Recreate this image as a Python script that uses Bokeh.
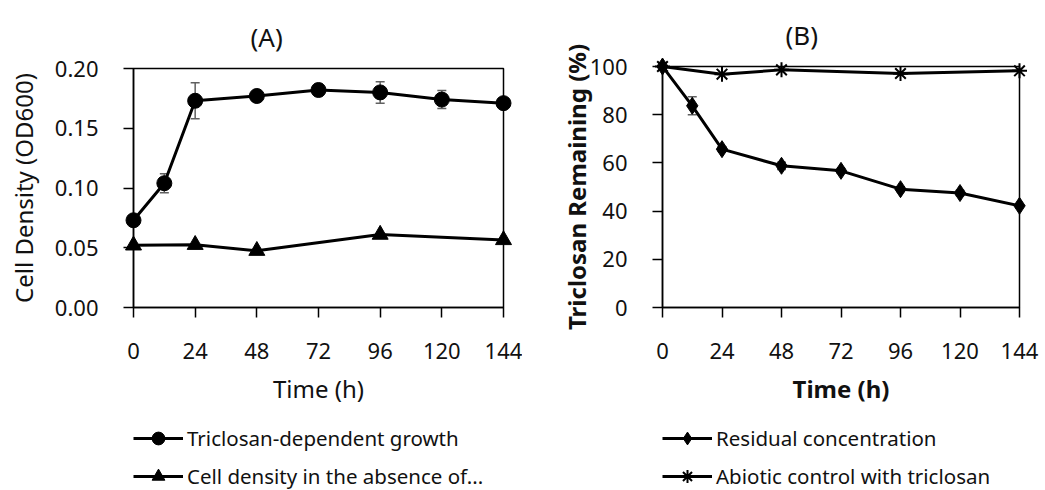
from bokeh.plotting import figure
from bokeh.layouts import row, column
from bokeh.models import (Range1d, FixedTicker, Whisker, ColumnDataSource, Legend,
                          LegendItem, PrintfTickFormatter, Title)
from bokeh.embed import file_html
from bokeh.resources import INLINE

# ---------------- data ----------------
time_a = [0, 12, 24, 48, 72, 96, 120, 144]
growth = [0.073, 0.104, 0.173, 0.177, 0.182, 0.180, 0.174, 0.171]
growth_err = [0.002, 0.008, 0.015, 0.003, 0.005, 0.009, 0.0075, 0.002]
time_ctrl = [0, 24, 48, 96, 144]
ctrl_density = [0.052, 0.0525, 0.0475, 0.061, 0.0565]

time_b = [0, 12, 24, 48, 72, 96, 120, 144]
residual = [100, 83.7, 65.7, 58.8, 56.7, 49.1, 47.5, 42.2]
residual_err = [0.8, 3.7, 1.0, 1.5, 1.0, 1.0, 1.0, 0.8]
time_abiotic = [0, 24, 48, 96, 144]
abiotic = [100, 96.8, 98.6, 97.1, 98.2]

x_ticks = [0, 24, 48, 72, 96, 120, 144]
y_ticks_a = [0, 0.05, 0.10, 0.15, 0.20]
y_ticks_b = [0, 20, 40, 60, 80, 100]

legend_a = ["Triclosan-dependent growth", "Cell density in the absence of..."]
legend_b = ["Residual concentration", "Abiotic control with triclosan"]

FONT = "Noto Sans"
TXT = "#111111"
TICK_FS = "22px"
LABEL_FS = "24px"
MAIN_H = 420


def base_fig(width, left, right, top, frame_h, yr, yticks, title, title_offset):
    p = figure(width=width, height=MAIN_H, output_backend="svg", toolbar_location=None,
               x_range=Range1d(0, 144), y_range=yr,
               min_border_left=left, min_border_right=right, min_border_top=top,
               min_border_bottom=MAIN_H - top - frame_h, title=None)
    p.background_fill_color = None
    p.border_fill_color = None
    p.grid.visible = False
    p.outline_line_color = "black"
    p.outline_line_width = 1.5
    # thin spacer nearest the frame lifts the panel title a little
    p.add_layout(Title(text=" ", text_font_size="2px", standoff=5), "above")
    p.add_layout(Title(text=title, text_font=FONT, text_font_size="26px",
                       text_font_style="normal", text_color=TXT, align="left",
                       offset=title_offset, standoff=10), "above")
    for ax in (p.xaxis[0], p.yaxis[0]):
        ax.axis_line_color = "black"
        ax.axis_line_width = 1.5
        ax.major_tick_line_color = "black"
        ax.major_tick_line_width = 1.5
        ax.major_tick_out = 10
        ax.major_tick_in = 0
        ax.minor_tick_line_color = None
        ax.major_label_text_font = FONT
        ax.major_label_text_font_size = TICK_FS
        ax.major_label_text_color = TXT
        ax.axis_label_text_font = FONT
        ax.axis_label_text_font_size = LABEL_FS
        ax.axis_label_text_color = TXT
        ax.axis_label_text_font_style = "normal"
    p.xaxis.ticker = FixedTicker(ticks=x_ticks)
    p.yaxis.ticker = FixedTicker(ticks=yticks)
    p.xaxis.major_label_standoff = 25
    p.yaxis.major_label_standoff = 25
    p.xaxis.axis_label = "Time (h)"
    p.xaxis.axis_label_standoff = 10
    return p


def whisker(p, src):
    w = Whisker(base="t", lower="lo", upper="hi", source=src, line_color="#606060",
                line_width=1.5)
    for h in (w.upper_head, w.lower_head):
        h.size = 9
        h.line_color = "#606060"
        h.line_width = 1.5
    p.add_layout(w)


def legend_fig(width, labels, series):
    # legend-only strip under a panel; its ranges lie far from the data so
    # the series glyphs themselves stay out of view, only the key is shown
    lf = figure(width=width, height=490 - MAIN_H, output_backend="svg",
                toolbar_location=None, x_range=Range1d(-1000, -999),
                y_range=Range1d(-1000, -999),
                x_axis_type=None, y_axis_type=None,
                min_border_left=125, min_border_top=2, min_border_right=0,
                min_border_bottom=0)
    lf.background_fill_color = None
    lf.border_fill_color = None
    lf.outline_line_color = None
    lf.grid.visible = False
    items = []
    for lab, (src, mk, sz) in zip(labels, series):
        ln = lf.line("t", "v", source=src, line_color="black", line_width=3)
        if mk == "asterisk":
            sc = lf.scatter("t", "v", source=src, marker=mk, size=sz,
                            line_color="black", line_width=2)
        else:
            sc = lf.scatter("t", "v", source=src, marker=mk, size=sz, color="black")
        items.append(LegendItem(label=lab, renderers=[ln, sc]))
    lg = Legend(items=items, location="top_left", orientation="vertical",
                glyph_width=50, glyph_height=32, label_height=32,
                label_text_font=FONT, label_text_font_size="20.5px",
                label_text_color=TXT, label_standoff=4, spacing=6,
                padding=0, margin=0, border_line_color=None,
                background_fill_color=None)
    lf.add_layout(lg, "center")
    return lf


# ---------------- panel A ----------------
pa = base_fig(522, 133, 19, 68, 239, Range1d(0, 0.2), y_ticks_a, "(A)", 117)
pa.yaxis.formatter = PrintfTickFormatter(format="%.2f")
pa.yaxis.axis_label = "Cell Density (OD600)"
pa.yaxis.axis_label_standoff = 12

src_g = ColumnDataSource(dict(t=time_a, v=growth,
                              lo=[v - e for v, e in zip(growth, growth_err)],
                              hi=[v + e for v, e in zip(growth, growth_err)]))
whisker(pa, src_g)
pa.line("t", "v", source=src_g, line_color="black", line_width=3)
pa.scatter("t", "v", source=src_g, marker="circle", size=15, color="black",
           level="annotation")

src_c = ColumnDataSource(dict(t=time_ctrl, v=ctrl_density))
pa.line("t", "v", source=src_c, line_color="black", line_width=3)
pa.scatter("t", "v", source=src_c, marker="triangle", size=16, color="black",
           level="annotation")

la = legend_fig(522, legend_a, [(src_g, "circle", 15), (src_c, "triangle", 16)])

# ---------------- panel B ----------------
pb = base_fig(523, 140, 26, 66, 241, Range1d(0, 100), y_ticks_b, "(B)", 123)
pb.yaxis.axis_label = "Triclosan Remaining (%)"
pb.yaxis.axis_label_text_font_style = "bold"
pb.xaxis.axis_label_text_font_style = "bold"
pb.yaxis.axis_label_standoff = -6

src_r = ColumnDataSource(dict(t=time_b, v=residual,
                              lo=[v - e for v, e in zip(residual, residual_err)],
                              hi=[v + e for v, e in zip(residual, residual_err)]))
whisker(pb, src_r)
pb.line("t", "v", source=src_r, line_color="black", line_width=3)
pb.scatter("t", "v", source=src_r, marker="diamond", size=17, color="black",
           level="annotation")

src_ab = ColumnDataSource(dict(t=time_abiotic, v=abiotic))
pb.line("t", "v", source=src_ab, line_color="black", line_width=3)
pb.scatter("t", "v", source=src_ab, marker="asterisk", size=15, line_color="black",
           line_width=2, level="annotation")

lb = legend_fig(523, legend_b, [(src_r, "diamond", 17), (src_ab, "asterisk", 15)])

layout = row(column(pa, la), column(pb, lb))
open("out.html", "w").write(file_html(layout, INLINE))
